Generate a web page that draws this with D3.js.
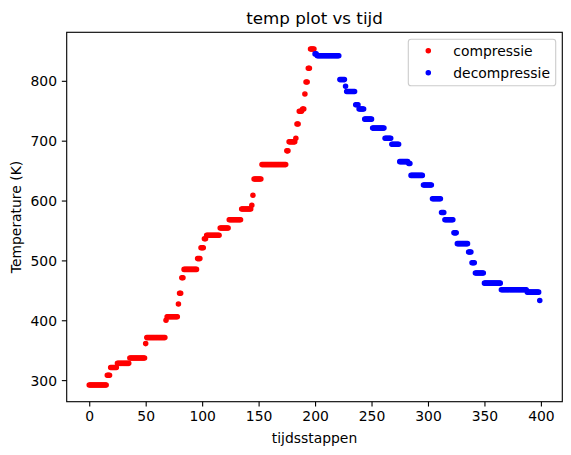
<!DOCTYPE html>
<html>
<head>
<meta charset="utf-8">
<script src="https://cdn.jsdelivr.net/npm/d3@7"></script>
<style>
html,body{margin:0;padding:0;background:#fff;}
svg{display:block;font-family:"DejaVu Sans",sans-serif;}
</style>
</head>
<body>
<svg id="chart" width="571" height="455"></svg>
<script>
// Temperature per time step (K)
const compressie = [
  292,292,292,292,292,292,292,292,292,292,292,292,292,292,292,292,
  308,308,308,
  321,321,321,321,321,321,
  328,328,328,328,328,328,328,328,328,328,328,
  337,337,337,337,337,337,337,337,337,337,337,337,337,337,
  361,
  371,371,371,371,371,371,371,371,371,371,371,371,371,371,371,371,371,
  400,
  406,406,406,406,406,406,406,406,406,406,
  427,
  445,445,
  471,471,
  485,485,485,485,485,485,485,485,485,485,485,485,
  503,503,503,
  521,521,521,
  536,536,
  542,542,542,542,542,542,542,542,542,542,542,542,
  554,554,554,554,554,554,554,554,
  568,568,568,568,568,568,568,568,568,568,568,
  586,586,586,586,586,586,586,586,586,
  592,
  609,
  636,636,636,636,636,636,636,
  660,660,660,660,660,660,660,660,660,660,660,660,660,660,660,660,660,660,660,660,660,660,
  683,683,
  698,698,698,698,698,698,
  704,
  728,728,
  749,749,749,
  753,753,
  778,
  798,798,
  821,821,
  853,853,853,853
];
const decompressie = [
  845,845,
  842,842,842,842,842,842,842,842,842,842,842,842,842,842,842,842,842,842,842,842,
  802,802,802,802,802,
  791,
  782,782,782,782,782,782,782,782,
  760,760,760,
  753,753,753,753,753,
  736,736,736,736,736,736,736,
  721,721,721,721,721,721,721,721,721,721,721,
  704,704,704,704,704,704,
  694,694,694,694,694,694,694,
  665,665,665,665,665,665,665,665,
  662,662,
  642,642,642,642,642,642,642,642,642,642,642,
  626,626,626,626,626,626,626,626,
  603,603,603,603,603,603,603,603,
  580,580,580,
  568,568,568,568,568,568,568,568,
  546,546,546,
  528,528,528,528,528,528,528,528,528,528,
  514,514,514,
  496,496,496,
  479,479,479,479,479,479,479,479,
  462,462,462,462,462,462,462,462,462,462,462,462,462,462,462,
  451,451,451,451,451,451,451,451,451,451,451,451,451,451,451,451,451,451,451,451,451,451,451,
  447,447,447,447,447,447,447,447,447,447,447,
  433
];
const compressieStart = 0;     // first time step of compression
const decompressieStart = 200; // first time step of decompression
const xTicks = [0, 50, 100, 150, 200, 250, 300, 350, 400];
const yTicks = [300, 400, 500, 600, 700, 800];
const seriesNames = ["compressie", "decompressie"];
const seriesColors = ["#ff0000", "#0000ff"];

const series = [
  compressie.map((v, i) => ({t: compressieStart + i, v})),
  decompressie.map((v, i) => ({t: decompressieStart + i, v}))
];

const svg = d3.select("#chart");
const L = 66.7, T = 32.3, W = 495.6, H = 369.4;

const all = series.flat();
const tExt = d3.extent(all, d => d.t), vExt = d3.extent(all, d => d.v);
const tPad = (tExt[1] - tExt[0]) * 0.05, vPad = (vExt[1] - vExt[0]) * 0.05;
const x = d3.scaleLinear().domain([tExt[0] - tPad, tExt[1] + tPad]).range([L, L + W]);
const y = d3.scaleLinear().domain([vExt[0] - vPad, vExt[1] + vPad]).range([T + H, T]);

// points
const g = svg.append("g");
series.forEach((s, k) => {
  g.selectAll(null).data(s).enter().append("circle")
    .attr("cx", d => x(d.t)).attr("cy", d => y(d.v))
    .attr("r", 2.08)
    .attr("fill", seriesColors[k])
    .attr("stroke", seriesColors[k]).attr("stroke-width", 1.39);
});

// axes
const xAxis = d3.axisBottom(x).tickValues(xTicks).tickSize(4.86).tickPadding(4.86).tickFormat(d3.format("d"));
const yAxis = d3.axisLeft(y).tickValues(yTicks).tickSize(4.86).tickPadding(4.86).tickFormat(d3.format("d"));
const gx = svg.append("g").attr("transform", `translate(0,${T + H})`).call(xAxis);
const gy = svg.append("g").attr("transform", `translate(${L},0)`).call(yAxis);
[gx, gy].forEach(a => {
  a.select(".domain").remove();
  a.selectAll(".tick line").attr("stroke", "#000").attr("stroke-width", 1.11);
  a.selectAll(".tick text").attr("fill", "#000").attr("font-size", "13.9px").attr("font-family", "DejaVu Sans");
});
gy.selectAll(".tick text").attr("dy", "0.36em");

// frame
svg.append("rect").attr("x", L).attr("y", T).attr("width", W).attr("height", H)
  .attr("fill", "none").attr("stroke", "#000").attr("stroke-width", 1.11);

// labels
svg.append("text").attr("x", L + W / 2).attr("y", T - 8.5).attr("text-anchor", "middle")
  .attr("font-size", "16.7px").text("temp plot vs tijd");
svg.append("text").attr("x", L + W / 2).attr("y", 443).attr("text-anchor", "middle")
  .attr("font-size", "13.9px").text("tijdsstappen");
svg.append("text").attr("transform", `translate(21,${T + H / 2}) rotate(-90)`).attr("text-anchor", "middle")
  .attr("font-size", "13.9px").text("Temperature (K)");

// legend
const lg = svg.append("g");
lg.append("rect").attr("x", 408.3).attr("y", 39.3).attr("width", 147.4).attr("height", 46.4)
  .attr("rx", 2.8).attr("fill", "#fff").attr("fill-opacity", 0.8)
  .attr("stroke", "#cccccc").attr("stroke-width", 1.11);
seriesNames.forEach((name, k) => {
  const cy = 50.7 + k * 22;
  lg.append("circle").attr("cx", 428.3).attr("cy", cy).attr("r", 2.08)
    .attr("fill", seriesColors[k]).attr("stroke", seriesColors[k]).attr("stroke-width", 1.39);
  lg.append("text").attr("x", 453.3).attr("y", cy).attr("dy", "0.36em")
    .attr("font-size", "13.9px").text(name);
});
</script>
</body>
</html>
